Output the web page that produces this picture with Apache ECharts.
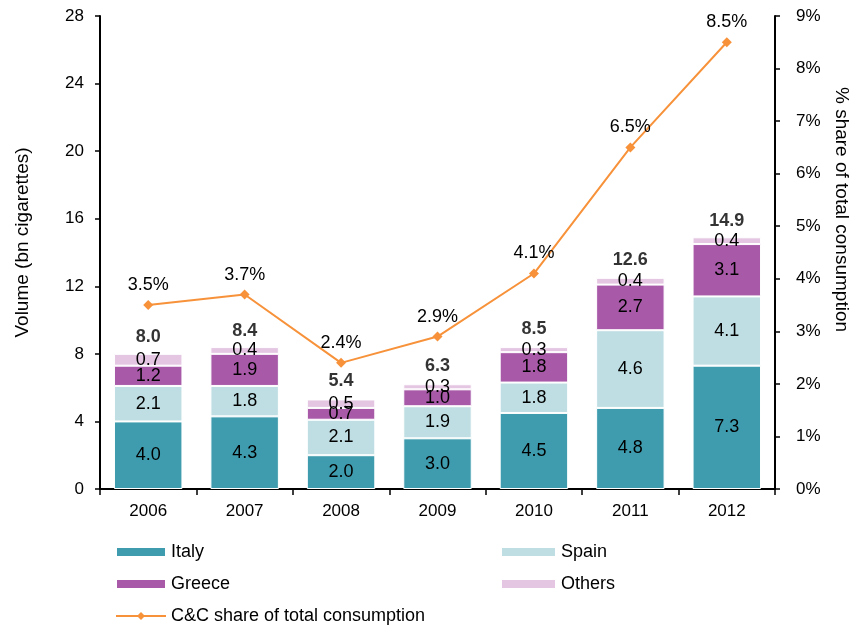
<!DOCTYPE html>
<html><head><meta charset="utf-8">
<script src="https://cdn.jsdelivr.net/npm/echarts@6/dist/echarts.min.js"></script>
<style>html,body{margin:0;padding:0;background:#fff}#c{width:850px;height:628px}</style>
</head><body><div id="c"></div>
<script>
var years = ['2006','2007','2008','2009','2010','2011','2012'];
var italy = [4.0,4.3,2.0,3.0,4.5,4.8,7.3];
var spain = [2.1,1.8,2.1,1.9,1.8,4.6,4.1];
var greece = [1.2,1.9,0.7,1.0,1.8,2.7,3.1];
var others = [0.7,0.4,0.5,0.3,0.3,0.4,0.4];
var totals = [8.0,8.4,5.4,6.3,8.5,12.6,14.9];
var share = [3.5,3.7,2.4,2.9,4.1,6.5,8.5];

var F = 'Liberation Sans, Arial, sans-serif';
var FS = 17;
var DS = 18;
function barSeries(name, data, color){
  return {name:name,type:'bar',stack:'v',data:data,barWidth:'71%',
    itemStyle:{color:color,borderColor:'#fff',borderWidth:1},
    label:{show:true,position:'inside',color:'#000',fontSize:DS,fontFamily:F,
      formatter:function(p){return p.value.toFixed(1);}}};
}
var legText = {fontSize:18,color:'#000',fontFamily:F,lineHeight:20};
var chart = echarts.init(document.getElementById('c'));
chart.setOption({
  animation:false,
  textStyle:{fontFamily:F},
  grid:{left:100,right:75,top:16,bottom:139,containLabel:false,outerBoundsMode:'none'},
  legend:[
    {orient:'vertical',left:115,top:542,itemWidth:50,itemHeight:10,itemGap:12,padding:0,
     textStyle:legText,
     data:[{name:'Italy',icon:'rect'},{name:'Greece',icon:'rect'}]},
    {orient:'vertical',left:500,top:542,itemWidth:55,itemHeight:10,itemGap:12,padding:0,
     textStyle:legText,
     data:[{name:'Spain',icon:'rect'},{name:'Others',icon:'rect'}]},
    {orient:'horizontal',left:115,top:606,itemWidth:50,itemHeight:10,padding:0,
     textStyle:legText,
     data:[{name:'C&C share of total consumption'}]}
  ],
  xAxis:{type:'category',data:years,
    axisLine:{lineStyle:{color:'#000',width:2}},
    axisTick:{show:true,length:6,lineStyle:{color:'#000',width:1.5}},
    axisLabel:{fontSize:FS,color:'#000',margin:14,fontFamily:F}},
  yAxis:[
    {type:'value',min:0,max:28,interval:4,
     name:'Volume (bn cigarettes)',nameLocation:'middle',nameGap:68,
     nameTextStyle:{fontSize:19,color:'#000',fontFamily:F,padding:[0,0,0,20]},
     axisLine:{show:true,lineStyle:{color:'#000',width:2}},
     axisTick:{show:true,length:5,lineStyle:{color:'#000',width:1.5}},
     axisLabel:{fontSize:FS,color:'#000',margin:16,fontFamily:F},
     splitLine:{show:false}},
    {type:'value',min:0,max:9,interval:1,position:'right',
     name:'% share of total consumption',nameLocation:'middle',nameGap:54,nameRotate:-90,
     nameTextStyle:{fontSize:19,color:'#000',fontFamily:F,padding:[0,86,0,0]},
     axisLine:{show:true,lineStyle:{color:'#000',width:2}},
     axisTick:{show:true,length:5,lineStyle:{color:'#000',width:1.5}},
     axisLabel:{fontSize:FS,color:'#000',margin:21,fontFamily:F,formatter:'{value}%'},
     splitLine:{show:false}}
  ],
  series:[
    barSeries('Italy',italy,'#3F9CAE'),
    barSeries('Spain',spain,'#BFDEE3'),
    barSeries('Greece',greece,'#A85AA8'),
    barSeries('Others',others,'#E4C6E2'),
    {name:'Total',type:'scatter',data:totals,symbolSize:1,itemStyle:{color:'rgba(0,0,0,0)'},
     label:{show:true,position:'top',distance:7,fontSize:DS,fontWeight:'bold',color:'#000',fontFamily:F,
       formatter:function(p){return p.value.toFixed(1);}},z:5},
    {name:'C&C share of total consumption',type:'line',yAxisIndex:1,data:share,
     symbol:'diamond',symbolSize:10,
     lineStyle:{color:'#F7923A',width:2},itemStyle:{color:'#F7923A'},
     label:{show:true,position:'top',distance:6,fontSize:DS,color:'#000',fontFamily:F,
       formatter:function(p){return p.value.toFixed(1)+'%';}},z:6}
  ]
});
</script></body></html>
